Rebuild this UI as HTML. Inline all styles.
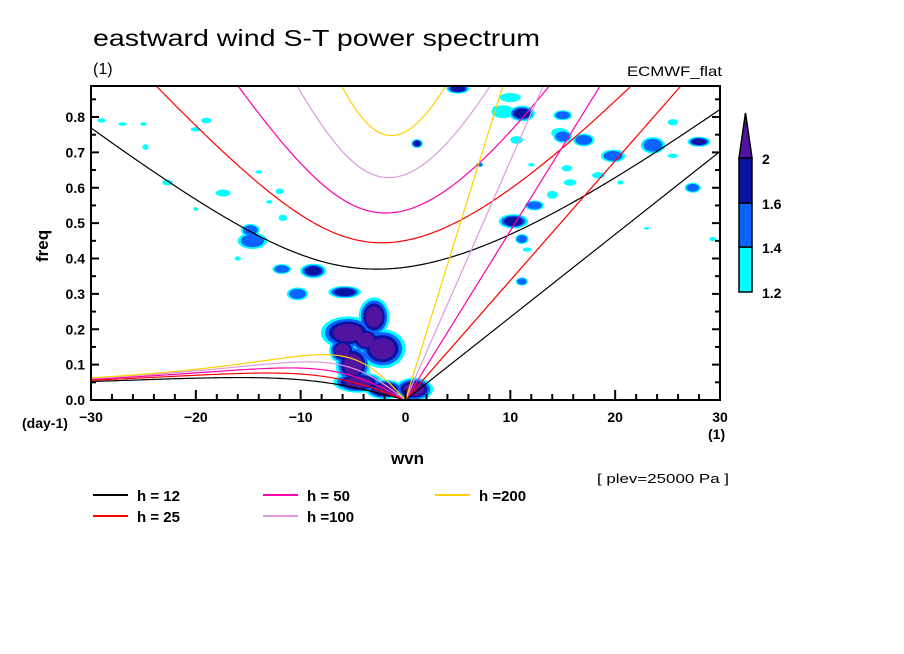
<!DOCTYPE html>
<html><head><meta charset="utf-8"><style>
html,body{margin:0;padding:0;background:#fff;}
svg{display:block;font-family:"Liberation Sans",sans-serif;}
</style></head><body>
<svg id="chart" width="904" height="654" viewBox="0 0 904 654" xmlns="http://www.w3.org/2000/svg">
<defs><clipPath id="plotclip"><rect x="91" y="86" width="629" height="314"/></clipPath></defs>
<rect width="904" height="654" fill="#fff"/>
<text x="93" y="46" font-size="23" textLength="447" lengthAdjust="spacingAndGlyphs">eastward wind S-T power spectrum</text>
<text x="93" y="74" font-size="16">(1)</text>
<text x="627" y="76" font-size="14" textLength="95" lengthAdjust="spacingAndGlyphs">ECMWF_flat</text>
<g id="blobs" clip-path="url(#plotclip)"></g>
<g id="curves" clip-path="url(#plotclip)"></g>
<rect x="91" y="86" width="629" height="314" fill="none" stroke="#000" stroke-width="2"/>
<g id="axes"></g>
<text transform="translate(48,262) rotate(-90)" font-size="17" font-weight="bold">freq</text>
<text x="22" y="428" font-size="14" font-weight="bold">(day-1)</text>
<text x="708" y="439" font-size="14" font-weight="bold">(1)</text>
<text x="391" y="464" font-size="17" font-weight="bold">wvn</text>
<text x="597" y="483" font-size="13" textLength="132" lengthAdjust="spacingAndGlyphs">[ plev=25000 Pa ]</text>
<g id="legend"></g>
<g id="colorbar"></g>
</svg>
<script>
const hValues=[12,25,50,100,200];
const hColors=['#000000','#ff0000','#ff00aa','#dd99dd','#ffd000'];
const xTicks=[-30,-20,-10,0,10,20,30];
const yTicks=[0.0,0.1,0.2,0.3,0.4,0.5,0.6,0.7,0.8];
const cbLevels=[1.2,1.4,1.6,2];
const cbColors=['#00ffff','#0a64ff','#0a14a0','#5014a0'];
// blobs: wvn, freq, half-width (wvn), half-height (freq), level 1..4
const blobWvn=[-5.5,-3,-2.2,-5,-4.5,-2,0.8,-3.8,-6,-14.6,-14.8,-11.8,-8.8,-5.8,-10.3,-17.4,-19,-20,-29,-27,-25,-24.8,-22.7,-12,-14,-13,-11.7,-16,-20,5,1.1,10,9.3,11.1,15,14.7,15,17,19.8,23.6,25.5,28,10.3,12.3,11.1,11.1,27.4,15.7,18.4,14,15.4,10.6,8.7,7.1,12,20.5,25.5,29.3,23,11.6];
const blobFreq=[0.19,0.235,0.145,0.1,0.05,0.03,0.03,0.17,0.14,0.45,0.48,0.37,0.365,0.305,0.30,0.585,0.79,0.765,0.79,0.78,0.78,0.715,0.615,0.59,0.645,0.56,0.515,0.40,0.54,0.88,0.725,0.855,0.815,0.81,0.805,0.755,0.745,0.735,0.69,0.72,0.785,0.73,0.505,0.55,0.455,0.335,0.60,0.615,0.635,0.58,0.655,0.735,0.825,0.665,0.665,0.615,0.69,0.455,0.485,0.425];
const blobRw=[1.4,0.8,1.2,0.9,1.3,1.0,1.0,0.8,0.7,1.1,0.7,0.7,0.8,1.0,0.8,0.7,0.5,0.5,0.4,0.4,0.3,0.3,0.5,0.4,0.3,0.3,0.4,0.3,0.25,0.7,0.35,1.0,1.1,0.8,0.7,0.8,0.7,0.8,0.9,0.9,0.5,0.7,0.9,0.7,0.5,0.45,0.6,0.6,0.6,0.5,0.5,0.6,0.4,0.25,0.3,0.3,0.5,0.3,0.25,0.4];
const blobRf=[0.025,0.03,0.03,0.03,0.016,0.015,0.018,0.02,0.02,0.018,0.014,0.011,0.013,0.011,0.014,0.01,0.008,0.006,0.006,0.005,0.005,0.008,0.008,0.008,0.005,0.005,0.009,0.006,0.005,0.009,0.008,0.013,0.018,0.014,0.011,0.014,0.014,0.014,0.014,0.018,0.009,0.009,0.013,0.011,0.011,0.009,0.011,0.009,0.009,0.011,0.009,0.011,0.006,0.005,0.005,0.006,0.006,0.006,0.004,0.006];
const blobLvl=[4,4,4,4,4,4,4,4,4,2,2,2,3,3,2,1,1,1,1,1,1,1,1,1,1,1,1,1,1,3,3,1,1,3,2,1,2,2,2,2,1,3,3,2,2,2,2,1,1,1,1,1,1,2,1,1,1,1,1,1];

const X0=91,X1=720,Y0=400,Y1=86;
const xs=w=>X0+(w+30)/60*(X1-X0);
const ys=f=>Y0-f/0.1*35.375;
const NS='http://www.w3.org/2000/svg';
function mk(tag,attrs,parent){const e=document.createElementNS(NS,tag);for(const k in attrs)e.setAttribute(k,attrs[k]);parent.appendChild(e);return e;}

// blobs
const bg=document.getElementById('blobs');
for(let l=1;l<=4;l++){
  for(let i=0;i<blobWvn.length;i++){
    const L=blobLvl[i];
    if(l>L) continue;
    const s=1+(L-l)*0.28;
    const e=mk('ellipse',{cx:xs(blobWvn[i]),cy:ys(blobFreq[i]),rx:Math.abs(xs(blobRw[i]*s)-xs(0)),ry:Math.abs(ys(0)-ys(blobRf[i]*s)),fill:cbColors[l-1]},bg);
    
    
  }
}

// dispersion curves
const R=6.371e6,beta=2*7.292e-5/R,g=9.81,toCpd=86400/(2*Math.PI);
function roots(wvn,c){
  const k=wvn/R,A=c*c*k*k+3*beta*c,B=beta*c*c*k;
  const f=w=>w*w*w-A*w-B;
  function bis(lo,hi){let flo=f(lo);for(let i=0;i<80;i++){const m=(lo+hi)/2,fm=f(m);if((fm>0)===(flo>0)){lo=m;flo=fm;}else hi=m;}return (lo+hi)/2;}
  const m=Math.sqrt(A/3);
  return {ig:bis(m,1e-3)*toCpd, er:(wvn<0?bis(0,m)*toCpd:0)};
}
const cg=document.getElementById('curves');
hValues.forEach((h,j)=>{
  const c=Math.sqrt(g*h);
  let ig='',er='';
  for(let w=-30;w<=30.001;w+=0.25){const r=roots(w,c);ig+=(ig?'L':'M')+xs(w).toFixed(2)+','+ys(r.ig).toFixed(2);}
  for(let w=-30;w<=0.001;w+=0.25){const r=roots(w,c);er+=(er?'L':'M')+xs(w).toFixed(2)+','+ys(r.er).toFixed(2);}
  const kel=c*(30/R)*toCpd;
  let p=mk('path',{d:ig,fill:'none',stroke:hColors[j],'stroke-width':1.2},cg);
  
  
  p=mk('path',{d:er,fill:'none',stroke:hColors[j],'stroke-width':1.2},cg);
  
  
  p=mk('line',{x1:xs(0),y1:ys(0),x2:xs(30),y2:ys(kel),stroke:hColors[j],'stroke-width':1.2},cg);
  
  
});

// axes
const ax=document.getElementById('axes');
for(let w=-30;w<=30;w+=2){
  const major=w%10===0;
  const t=mk('line',{x1:xs(w),x2:xs(w),y1:Y0,y2:Y0-(major?10:6),stroke:'#000','stroke-width':2},ax);
  
  
}
xTicks.forEach(w=>{
  const t=mk('text',{x:xs(w),y:Y0+22,'font-size':14,'font-weight':'bold','text-anchor':'middle'},ax);
  t.textContent=(w<0?'\u2212'+(-w):String(w));
  
  
});
for(let f=0.05;f<0.88;f+=0.05){
  const major=Math.abs(f*10-Math.round(f*10))<1e-6;
  const t=mk('line',{x1:X0,x2:X0+(major?8:5),y1:ys(f),y2:ys(f),stroke:'#000','stroke-width':2},ax);
  
  
  const t2=mk('line',{x1:X1,x2:X1-(major?8:5),y1:ys(f),y2:ys(f),stroke:'#000','stroke-width':2},ax);
  
  
}
yTicks.forEach(f=>{
  const t=mk('text',{x:X0-6,y:ys(f)+5,'font-size':14,'font-weight':'bold','text-anchor':'end'},ax);
  t.textContent=f.toFixed(1);
  
  
});

// legend
const lg=document.getElementById('legend');
const legPos=[[93,495],[93,516],[263,495],[263,516],[435,495]];
const legText=['h = 12','h = 25','h = 50','h =100','h =200'];
hValues.forEach((h,j)=>{
  const [x,y]=legPos[j];
  const l=mk('line',{x1:x,x2:x+35,y1:y,y2:y,stroke:hColors[j],'stroke-width':2},lg);
  
  
  const t=mk('text',{x:x+44,y:y+6,'font-size':15,'font-weight':'bold'},lg);
  t.textContent=legText[j];
  
  
});

// colorbar
const cb=document.getElementById('colorbar');
const cbY=[292,247,203,158];
for(let i=0;i<3;i++){
  const r=mk('rect',{x:739,y:cbY[i+1],width:13,height:cbY[i]-cbY[i+1],fill:cbColors[i],stroke:'#000','stroke-width':1.5},cb);
  
  
}
const tri=mk('polygon',{points:'739,158 752,158 745.5,113',fill:cbColors[3],stroke:'#000','stroke-width':1.5},cb);


cbLevels.forEach((v,i)=>{
  const t=mk('text',{x:762,y:cbY[i]+6,'font-size':14,'font-weight':'bold'},cb);
  t.textContent=String(v);
  
  
});
</script>
</body></html>
